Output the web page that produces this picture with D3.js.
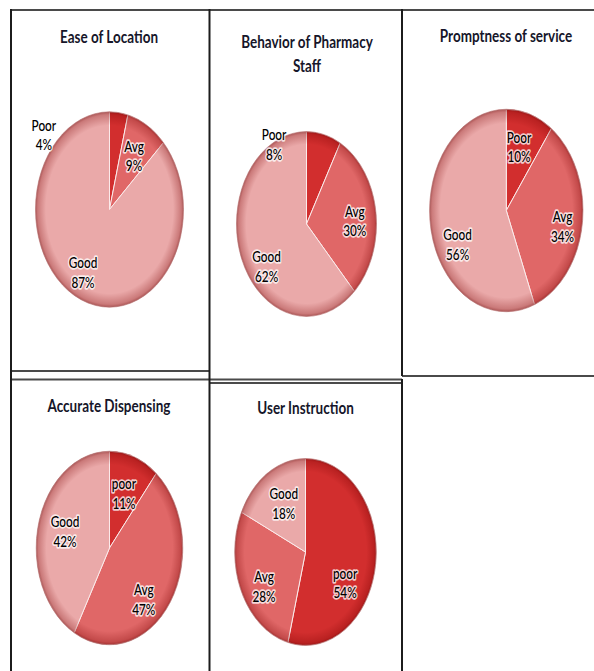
<!DOCTYPE html>
<html>
<head>
<meta charset="utf-8">
<script src="https://cdn.jsdelivr.net/npm/d3@7"></script>
<style>
  html, body { margin: 0; padding: 0; background: #ffffff; }
  svg { display: block; }
</style>
</head>
<body>
<svg id="chart" width="594" height="671"></svg>
<script>
// ---- data -------------------------------------------------------------
const categories = ["Poor", "Avg", "Good"];
const panelTitles = [
  ["Ease of Location"],
  ["Behavior of Pharmacy", "Staff"],
  ["Promptness of service"],
  ["Accurate Dispensing"],
  ["User Instruction"]
];
const easeOfLocation     = [4, 9, 87];
const pharmacyStaff      = [8, 30, 62];
const promptnessService  = [10, 34, 56];
const accurateDispensing = [11, 47, 42];
const userInstruction    = [54, 28, 18];
// label wording as printed in each panel
const sliceLabels = [
  ["Poor", "Avg", "Good"],
  ["Poor", "Avg", "Good"],
  ["Poor", "Avg", "Good"],
  ["poor", "Avg", "Good"],
  ["poor", "Avg", "Good"]
];

// ---- layout -----------------------------------------------------------
const stretch = 1.32;               // vertical stretch of pies and text
const sliceColors = ["#d22e2e", "#e06767", "#eaa9a9"];
const panels = [
  { values: easeOfLocation,     cx: 109.5, cy: 209.5, r: 74,   tx: 109, ty: 43,
    nudge: [-56.5, 0.6, 5.5],   radial: [1.17, 0.64, 0.74] },
  { values: pharmacyStaff,      cx: 306.5, cy: 224,   r: 70,   tx: 307, ty: 48,
    nudge: [-42.6, 4.5, -17],   radial: [0.98, 0.69, 0.73] },
  { values: promptnessService,  cx: 506.3, cy: 210.5, r: 76.7, tx: 506, ty: 41.5,
    nudge: [-3.2, 5.1, -17.3],  radial: [0.65, 0.75, 0.72] },
  { values: accurateDispensing, cx: 109.5, cy: 548,   r: 73.3, tx: 109, ty: 411.5,
    nudge: [-0.6, 14.6, 1.1],   radial: [0.60, 0.71, 0.63] },
  { values: userInstruction,    cx: 305.5, cy: 552,   r: 70.8, tx: 305.5, ty: 414,
    nudge: [23.5, -6.7, 1.6],   radial: [0.65, 0.69, 0.60] }
];

const svg = d3.select("#chart");

// darkened rim that gives the pies their bevelled edge
const defs = svg.append("defs");
const rim = defs.append("radialGradient").attr("id", "rim");
rim.append("stop").attr("offset", "0.86").attr("stop-color", "#7a0000").attr("stop-opacity", 0);
rim.append("stop").attr("offset", "0.97").attr("stop-color", "#7a0000").attr("stop-opacity", 0.28);
rim.append("stop").attr("offset", "1").attr("stop-color", "#6a0000").attr("stop-opacity", 0.5);

// ---- table frame ------------------------------------------------------
const frame = svg.append("g").attr("fill", "none");
const hLine = (x1, x2, y) => frame.append("line")
  .attr("x1", x1).attr("x2", x2).attr("y1", y).attr("y2", y)
  .attr("stroke", "#4a4a4a").attr("stroke-width", 2);
const vLine = (x, y1, y2) => frame.append("line")
  .attr("x1", x).attr("x2", x).attr("y1", y1).attr("y2", y2)
  .attr("stroke", "#1c1c1c").attr("stroke-width", 2);
hLine(10, 594, 10);
hLine(10, 210, 371);
hLine(10, 210, 379.5);
hLine(209, 402, 379.5);
hLine(209, 402, 383);
hLine(402, 594, 376);
vLine(11, 9, 671);
vLine(209.5, 9, 671);
vLine(402, 9, 376);
vLine(402, 379, 671);

// ---- pies -------------------------------------------------------------
const pie = d3.pie().sort(null).value(d => d);
const color = d3.scaleOrdinal().domain(categories).range(sliceColors);
const fmt = d => d + "%";

panels.forEach((p, i) => {
  const arcs = pie(p.values);
  const arc = d3.arc().innerRadius(0).outerRadius(p.r);

  const g = svg.append("g")
    .attr("transform", `translate(${p.cx},${p.cy}) scale(1,${stretch})`);

  g.selectAll("path.slice")
    .data(arcs)
    .join("path")
    .attr("class", "slice")
    .attr("d", arc)
    .attr("fill", (d, j) => color(categories[j]))
    .attr("stroke", "#fbeaea")
    .attr("stroke-width", 1)
    .attr("vector-effect", "non-scaling-stroke");

  g.append("circle")
    .attr("r", p.r)
    .attr("fill", "url(#rim)")
    .attr("stroke", "#9a3a3a")
    .attr("stroke-opacity", 0.45)
    .attr("stroke-width", 0.8)
    .attr("vector-effect", "non-scaling-stroke");

  // title
  const title = svg.append("g")
    .attr("transform", `translate(${p.tx},${p.ty}) scale(1,${stretch})`);
  title.selectAll("text")
    .data(panelTitles[i])
    .join("text")
    .attr("y", (d, k) => k * 18)
    .attr("text-anchor", "middle")
    .attr("font-family", "Lato, 'Open Sans', sans-serif")
    .attr("font-weight", 700)
    .attr("font-size", 13.5)
    .attr("fill", "#16162a")
    .text(d => d);

  // data labels: category name over percentage
  arcs.forEach((d, j) => {
    const mid = (d.startAngle + d.endAngle) / 2 + p.nudge[j] * Math.PI / 180;
    const rr = p.r * p.radial[j];
    const x = p.cx + Math.sin(mid) * rr;
    const y = p.cy - Math.cos(mid) * rr * stretch;
    const lg = svg.append("g")
      .attr("transform", `translate(${x},${y}) scale(1,${stretch})`);
    lg.selectAll("text")
      .data([sliceLabels[i][j], fmt(d.data)])
      .join("text")
      .attr("y", (t, k) => k === 0 ? -3.3 : 11.7)
      .attr("text-anchor", "middle")
      .attr("font-family", "Lato, 'Open Sans', sans-serif")
      .attr("font-size", 11.8)
      .attr("font-weight", 500)
      .attr("fill", "#000")
      .attr("stroke", "#ffffff")
      .attr("stroke-width", 2.6)
      .attr("stroke-opacity", 0.75)
      .attr("stroke-linejoin", "round")
      .attr("paint-order", "stroke")
      .text(t => t);
  });
});
</script>
</body>
</html>
